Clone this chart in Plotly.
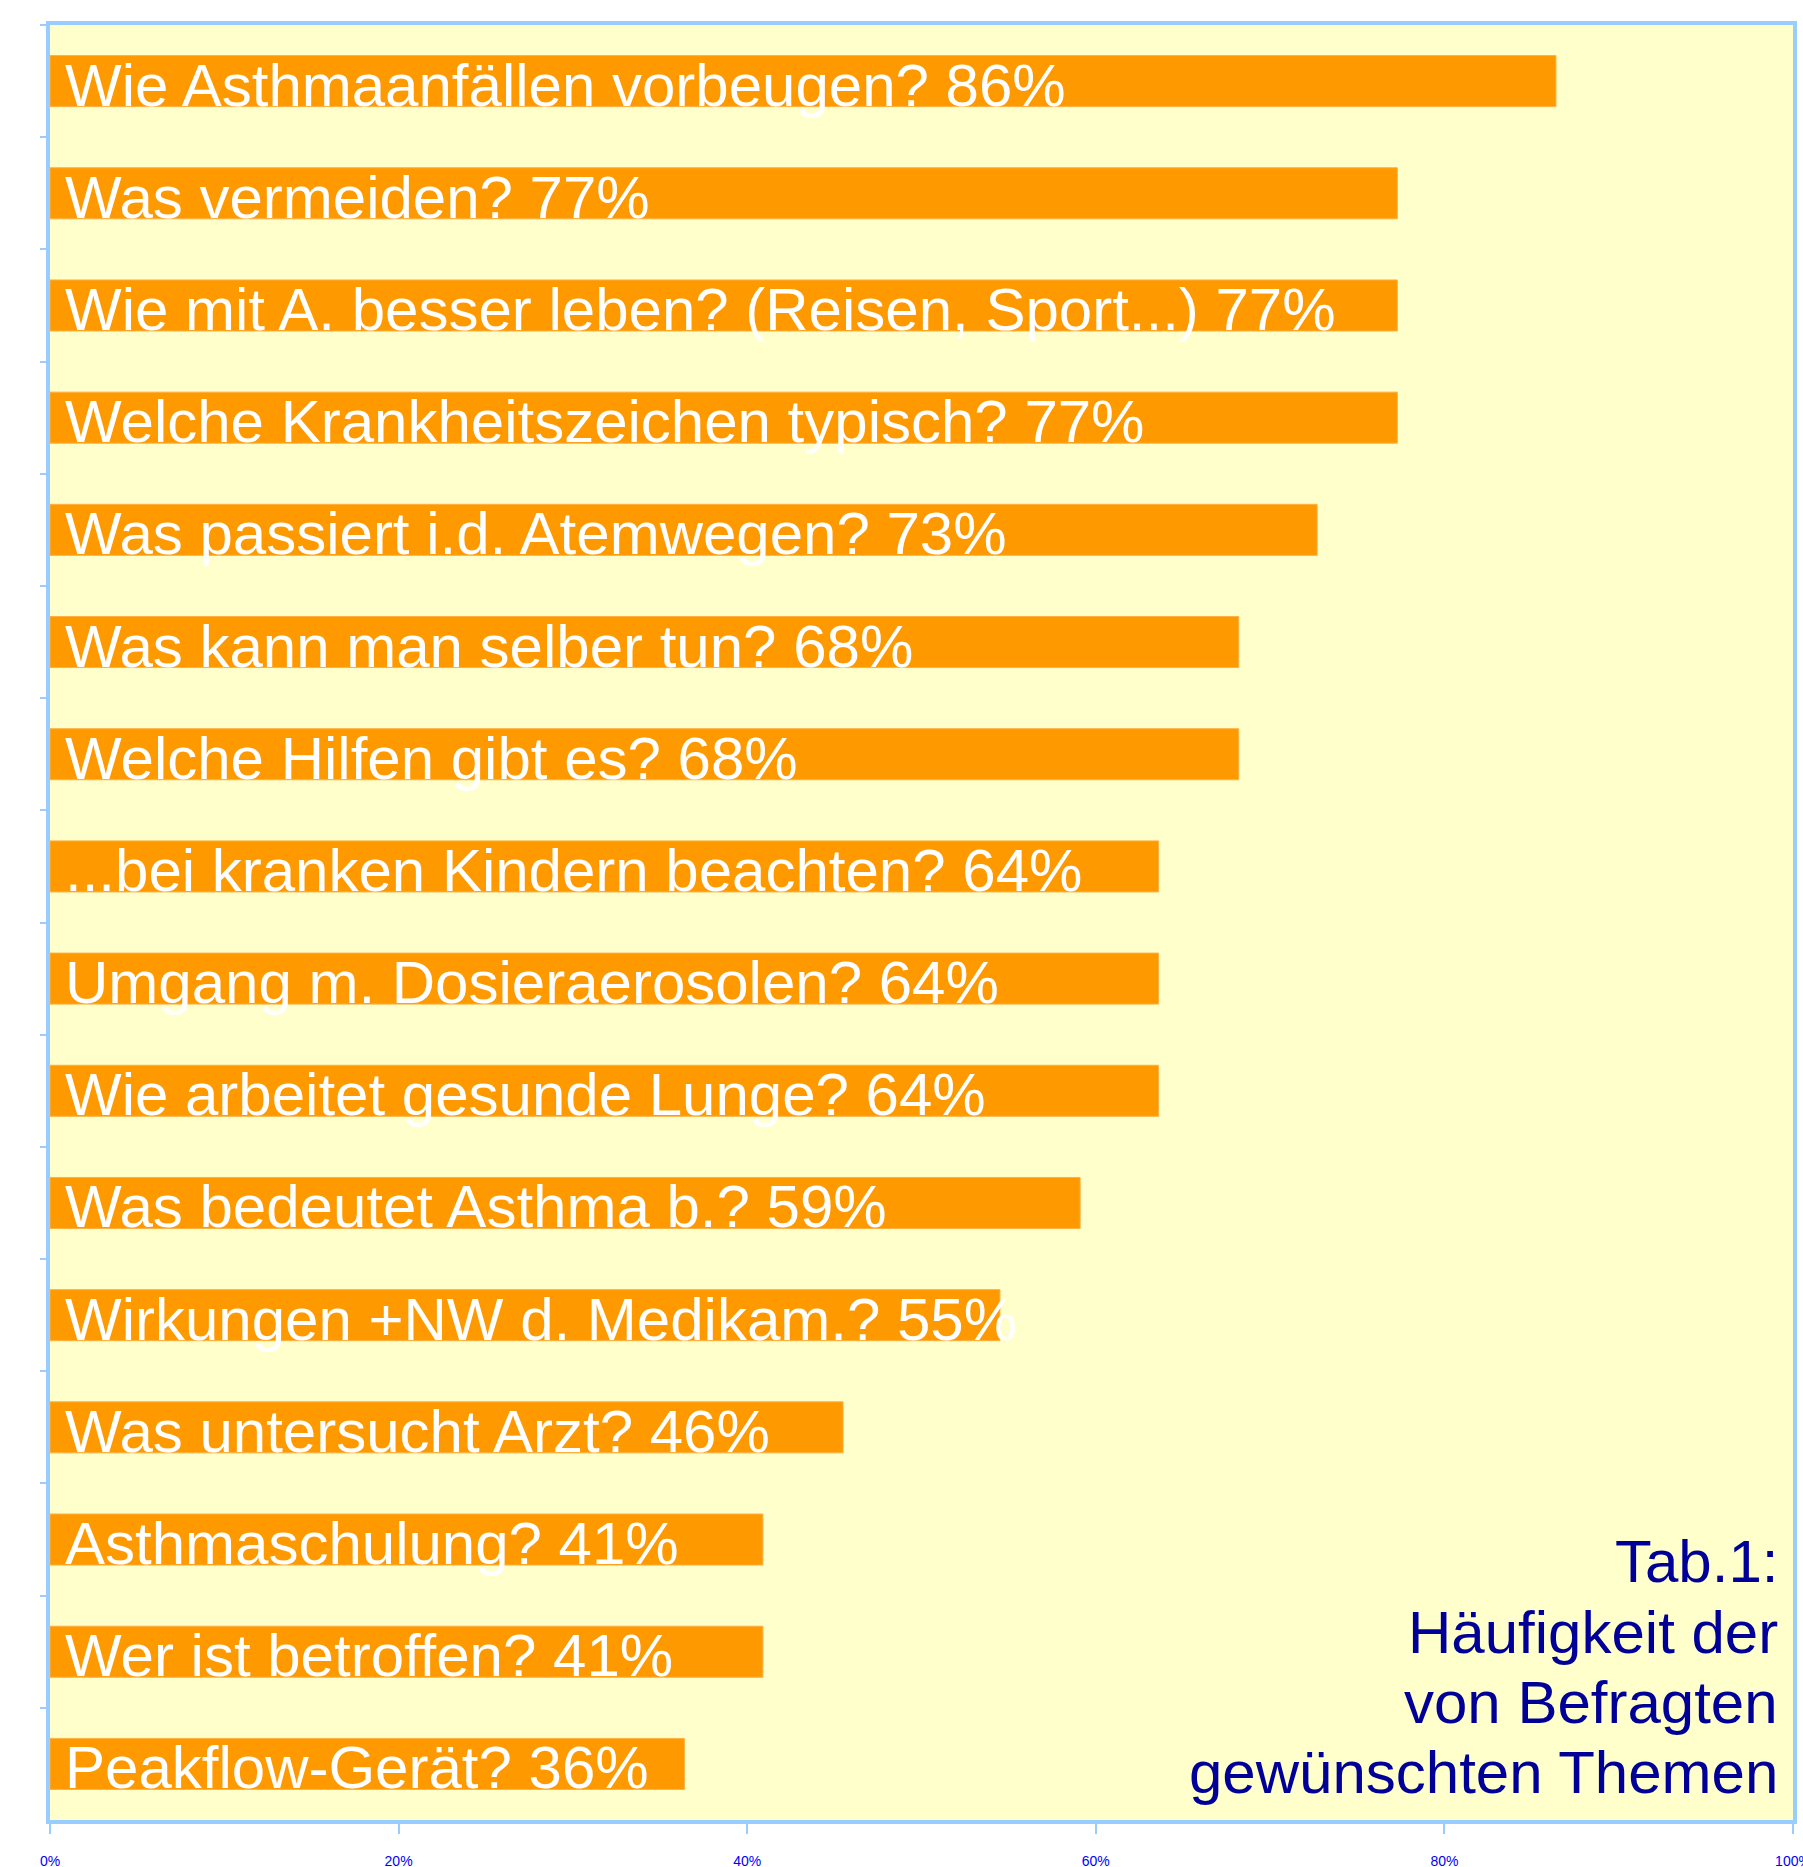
import plotly.graph_objects as go

categories = [
    "Wie Asthmaanfällen vorbeugen?",
    "Was vermeiden?",
    "Wie mit A. besser leben? (Reisen, Sport...)",
    "Welche Krankheitszeichen typisch?",
    "Was passiert i.d. Atemwegen?",
    "Was kann man selber tun?",
    "Welche Hilfen gibt es?",
    "...bei kranken Kindern beachten?",
    "Umgang m. Dosieraerosolen?",
    "Wie arbeitet gesunde Lunge?",
    "Was bedeutet Asthma b.?",
    "Wirkungen +NW d. Medikam.?",
    "Was untersucht Arzt?",
    "Asthmaschulung?",
    "Wer ist betroffen?",
    "Peakflow-Gerät?",
]
values = [86.4, 77.3, 77.3, 77.3, 72.7, 68.2, 68.2, 63.6, 63.6, 63.6, 59.1, 54.5, 45.5, 40.9, 40.9, 36.4]
percent_labels = ["86%", "77%", "77%", "77%", "73%", "68%", "68%", "64%", "64%", "64%",
                  "59%", "55%", "46%", "41%", "41%", "36%"]
tick_vals = [0, 20, 40, 60, 80, 100]
tick_text = ["0%", "20%", "40%", "60%", "80%", "100%"]
title_lines = ["Tab.1:", "Häufigkeit der", "von Befragten", "gewünschten Themen"]

FONT = "Arial, 'Liberation Sans', sans-serif"
AXIS_BLUE = "#99CCFF"

fig = go.Figure(
    go.Bar(
        x=values,
        y=categories,
        orientation="h",
        marker=dict(color="#FF9900", line=dict(color="#FFB040", width=1)),
        hoverinfo="skip",
    )
)

annotations = []
for cat, lab in zip(categories, percent_labels):
    annotations.append(dict(
        x=0, y=cat, xref="x", yref="y",
        text=f"{cat} {lab}",
        showarrow=False, xanchor="left", yanchor="middle",
        xshift=13, yshift=-4,
        font=dict(family=FONT, size=60, color="white"),
    ))

title_y = [0.1438, 0.1047, 0.0656, 0.0265]
for line, yy in zip(title_lines, title_y):
    annotations.append(dict(
        x=1, y=yy, xref="paper", yref="paper",
        text=line, showarrow=False, xanchor="right", yanchor="middle",
        xshift=-13,
        font=dict(family=FONT, size=60, color="#000099"),
    ))

fig.update_layout(
    width=1803, height=1867,
    margin=dict(l=50, r=10, t=25, b=47, autoexpand=False),
    paper_bgcolor="white",
    plot_bgcolor="#FFFFCC",
    bargap=0.545,
    showlegend=False,
    annotations=annotations,
    font=dict(family=FONT),
)
fig.update_xaxes(
    range=[0, 100], tickvals=tick_vals, ticktext=tick_text,
    showgrid=False, zeroline=False, automargin=False,
    showline=True, linecolor=AXIS_BLUE, linewidth=4, mirror=True,
    ticks="outside", ticklen=10, tickwidth=2, tickcolor=AXIS_BLUE,
    tickfont=dict(family=FONT, size=14, color="#0000FF"),
    ticklabelstandoff=15, ticklabeloverflow="allow",
)
fig.update_yaxes(
    autorange="reversed", showticklabels=False, showgrid=False, zeroline=False,
    automargin=False,
    showline=True, linecolor=AXIS_BLUE, linewidth=4, mirror=True,
    ticks="outside", tickson="boundaries", ticklen=6, tickwidth=2, tickcolor=AXIS_BLUE,
)

fig.write_html(
    "out.html",
    config={"displayModeBar": False},
    post_script="document.body.style.margin='0';document.body.style.overflow='hidden';",
)
